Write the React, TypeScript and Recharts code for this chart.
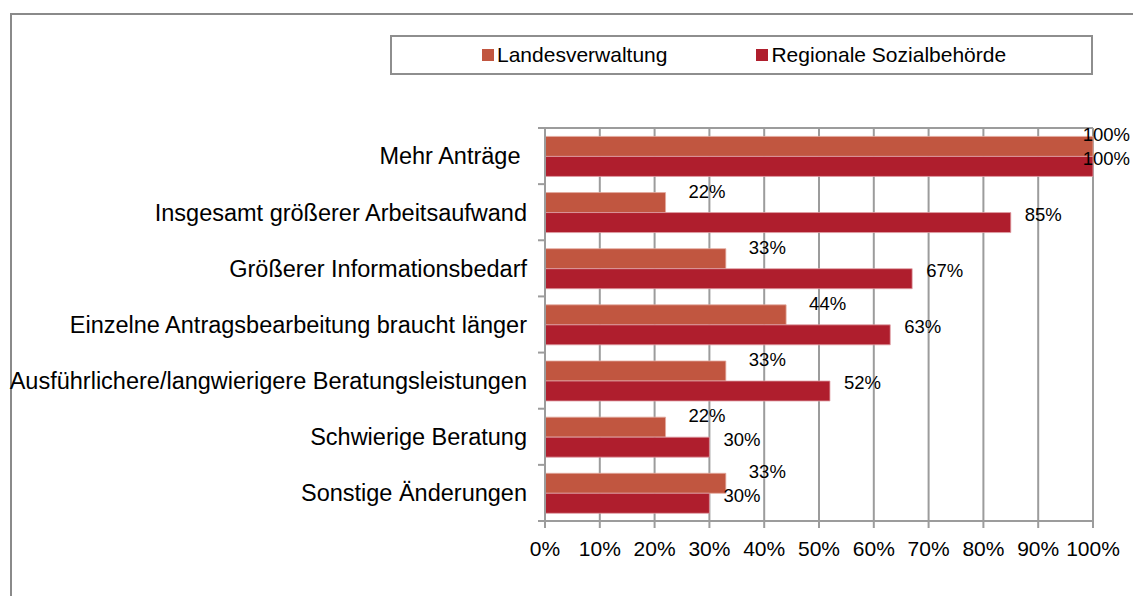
import React from 'react';
import { BarChart, Bar, XAxis, YAxis, CartesianGrid, Legend, LabelList } from 'recharts';

const categories = [
  'Mehr Anträge ',
  'Insgesamt größerer Arbeitsaufwand',
  'Größerer Informationsbedarf',
  'Einzelne Antragsbearbeitung braucht länger',
  'Ausführlichere/langwierigere Beratungsleistungen',
  'Schwierige Beratung',
  'Sonstige Änderungen',
];
const landesverwaltung = [100, 22, 33, 44, 33, 22, 33];
const regionaleSozialbehoerde = [100, 85, 67, 63, 52, 30, 30];
const seriesNames = ['Landesverwaltung', 'Regionale Sozialbehörde'];
const xTicks = [0, 10, 20, 30, 40, 50, 60, 70, 80, 90, 100];

const data = categories.map((c, i) => ({
  category: c,
  lv: landesverwaltung[i],
  rs: regionaleSozialbehoerde[i],
}));

const W = 1133;
const H = 596;
const FONT = '"Liberation Sans", Arial, sans-serif';
const GRID = '#9c9c9c';
const C_LV = '#C15640';
const C_RS = '#AF1E2D';
const TICK_SIZE = 7;
const TICK_MARGIN = 11;
const LABEL_LIMIT = 1130;
const LABEL_FS = 18.5;

const textWidth = (s: string, fs: number) => {
  let w = 0;
  for (const ch of s) w += ch === '%' ? 0.889 : 0.556;
  return w * fs;
};

const makeLabel = (kind: 'lv' | 'rs') => (props: any) => {
  const x = Number(props.x);
  const y = Number(props.y);
  const width = Number(props.width);
  const text = `${props.value}%`;
  const tw = textWidth(text, LABEL_FS);
  let tx = x + width + (kind === 'lv' ? 23 : 14);
  let anchor: 'start' | 'end' = 'start';
  if (tx + tw > LABEL_LIMIT) {
    tx = LABEL_LIMIT;
    anchor = 'end';
  }
  const baseline = y + (kind === 'lv' ? 5 : 8.5);
  return (
    <text x={tx} y={baseline} textAnchor={anchor} fontSize={LABEL_FS} fill="#000" fontFamily={FONT}>
      {text}
    </text>
  );
};

const CatTick = (props: any) => {
  const { x, y, payload, index } = props;
  const half = payload && typeof payload.offset === 'number' && payload.offset > 0 ? payload.offset : 28.07;
  const ax = Number(x) + TICK_SIZE + TICK_MARGIN;
  const fs = 23.5;
  return (
    <g>
      <text
        x={x}
        y={Number(y) + 0.358 * fs}
        textAnchor="end"
        fontSize={fs}
        fill="#000"
        fontFamily={FONT}
        style={{ whiteSpace: 'pre' }}
      >
        {payload.value}
      </text>
      <line x1={ax - TICK_SIZE} x2={ax} y1={y - half} y2={y - half} stroke={GRID} strokeWidth={2} />
      {index === categories.length - 1 && (
        <line x1={ax - TICK_SIZE} x2={ax} y1={y + half} y2={y + half} stroke={GRID} strokeWidth={2} />
      )}
    </g>
  );
};

const LegendBox = (props: any) => {
  const payload = props.payload || [];
  return (
    <div
      style={{
        width: 703,
        height: 40,
        boxSizing: 'border-box',
        border: '2px solid #8e8e8e',
        display: 'flex',
        alignItems: 'center',
        paddingLeft: 90,
        fontFamily: FONT,
        fontSize: 21,
        color: '#000',
        background: '#fff',
        whiteSpace: 'nowrap',
        overflow: 'hidden',
      }}
    >
      {payload.map((p: any, i: number) => (
        <div key={i} style={{ display: 'flex', alignItems: 'center', marginRight: 89, flexShrink: 0 }}>
          <span style={{ display: 'inline-block', width: 11.5, height: 11.5, background: p.color, marginRight: 3.5 }} />
          <span>{p.value}</span>
        </div>
      ))}
    </div>
  );
};

export default function App() {
  return (
    <div style={{ position: 'absolute', left: 0, top: 0, width: W, height: H, background: '#fff' }}>
      <div
        style={{
          position: 'absolute',
          left: 10,
          top: 13,
          width: W - 10,
          height: H - 13,
          boxSizing: 'border-box',
          borderLeft: '2.5px solid #8a8a8a',
          borderTop: '2.5px solid #8a8a8a',
        }}
      />
      <div style={{ position: 'absolute', left: 0, top: 0 }}>
        <BarChart
          width={W}
          height={H}
          data={data}
          layout="vertical"
          margin={{ top: 128, right: 40, bottom: 45, left: 0 }}
          barCategoryGap="15%"
          barGap={0}
          style={{ fontFamily: FONT }}
        >
          <CartesianGrid
            vertical={true}
            horizontal={true}
            stroke={GRID}
            strokeWidth={2}
            horizontalCoordinatesGenerator={(args: any) => [args && args.offset ? args.offset.top : 128]}
          />
          <XAxis
            type="number"
            domain={[0, 100]}
            ticks={xTicks}
            tickFormatter={(v: number) => `${v}%`}
            axisLine={{ stroke: GRID, strokeWidth: 2 }}
            tickLine={{ stroke: GRID, strokeWidth: 2 }}
            tickSize={7}
            tickMargin={13}
            height={30}
            interval={0}
            tick={{ fill: '#000', fontSize: 21, fontFamily: FONT }}
          />
          <YAxis
            type="category"
            dataKey="category"
            width={545}
            axisLine={{ stroke: GRID, strokeWidth: 2 }}
            tickLine={false}
            tickSize={TICK_SIZE}
            tickMargin={TICK_MARGIN}
            interval={0}
            tick={<CatTick />}
          />
          <Legend
            layout="horizontal"
            verticalAlign="middle"
            align="center"
            content={<LegendBox />}
            wrapperStyle={{ left: 390, top: 35, width: 703, height: 40 }}
          />
          <Bar dataKey="lv" name={seriesNames[0]} fill={C_LV} stroke="#e3ab9f" strokeWidth={0.8} isAnimationActive={false}>
            <LabelList dataKey="lv" content={makeLabel('lv')} />
          </Bar>
          <Bar dataKey="rs" name={seriesNames[1]} fill={C_RS} stroke="#e0a0a6" strokeWidth={0.8} isAnimationActive={false}>
            <LabelList dataKey="rs" content={makeLabel('rs')} />
          </Bar>
        </BarChart>
      </div>
    </div>
  );
}
